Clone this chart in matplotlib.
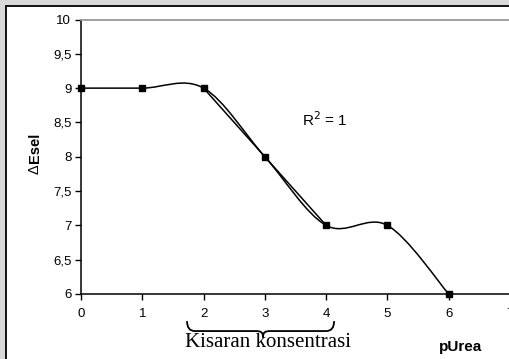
import numpy as np
import matplotlib
matplotlib.use("Agg")
import matplotlib.pyplot as plt
from matplotlib.path import Path
from matplotlib.patches import PathPatch, Rectangle

# Data
x_vals = [0, 1, 2, 3, 4, 5, 6]
y_vals = [9, 9, 9, 8, 7, 7, 6]
trend_x = [2, 3, 4]
trend_y = [9, 8, 7]
x_ticks = [0, 1, 2, 3, 4, 5, 6, 7]
y_ticks = [6, 6.5, 7, 7.5, 8, 8.5, 9, 9.5, 10]
y_tick_labels = ["6", "6,5", "7", "7,5", "8", "8,5", "9", "9,5", "10"]

W, H = 509, 359
fig = plt.figure(figsize=(W / 100, H / 100), dpi=100)
fig.patch.set_facecolor("#d9d9d9")

def fx(px):
    return px / W

def fy(py):
    return 1 - py / H

# white chart area with black border
fig.patches.append(Rectangle((fx(6), fy(H + 10)), fx(W + 10), (H + 10 - 6) / H,
                             transform=fig.transFigure, facecolor="white",
                             edgecolor="black", linewidth=1.3, zorder=-5))

ax_l, ax_r, ax_t, ax_b = 81, 510, 19.5, 294
ax = fig.add_axes([fx(ax_l), fy(ax_b), (ax_r - ax_l) / W, (ax_b - ax_t) / H])
ax.set_zorder(2)
ax.set_facecolor("none")
ax.set_xlim(0, 7)
ax.set_ylim(6, 10)

# Excel-style smoothed line (Bezier through points)
pts = np.column_stack([x_vals, y_vals]).astype(float)
n = len(pts)
verts = [tuple(pts[0])]
codes = [Path.MOVETO]
for i in range(n - 1):
    p0 = pts[max(i - 1, 0)]
    p1 = pts[i]
    p2 = pts[i + 1]
    p3 = pts[min(i + 2, n - 1)]
    c1 = p1 + (p2 - p0) / 6
    c2 = p2 - (p3 - p1) / 6
    verts += [tuple(c1), tuple(c2), tuple(p2)]
    codes += [Path.CURVE4] * 3
ax.add_patch(PathPatch(Path(verts, codes), facecolor="none", edgecolor="black",
                       linewidth=1.1, zorder=3))
ax.plot(x_vals, y_vals, linestyle="none", marker="s", markersize=4,
        color="black", zorder=4, clip_on=False)

# linear trendline
coef = np.polyfit(trend_x, trend_y, 1)
tx = np.array([trend_x[0], trend_x[-1]])
ax.plot(tx, np.polyval(coef, tx), color="black", linewidth=1.1, zorder=3)

ax.set_xticks(x_ticks)
ax.set_xticklabels([str(t) for t in x_ticks])
ax.set_yticks(y_ticks)
ax.set_yticklabels(y_tick_labels)
for lab in ax.get_xticklabels() + ax.get_yticklabels():
    lab.set_fontfamily("Liberation Sans")
    lab.set_fontsize(9.5)
ax.tick_params(axis="both", direction="out", length=4, width=1, color="black")
ax.tick_params(axis="x", pad=6)
ax.tick_params(axis="y", pad=3)
ax.spines["right"].set_visible(False)
ax.spines["top"].set_color("#999999")
ax.spines["top"].set_linewidth(1.3)
ax.spines["left"].set_linewidth(1.1)
ax.spines["bottom"].set_linewidth(1.1)

ax.text(3.98, 8.54, "R$^2$ = 1", fontsize=11, family="Liberation Sans",
        ha="center", va="center")

# axis titles
fig.text(fx(35), fy(164), "Δ", rotation=90, fontsize=10.5, family="Liberation Sans",
         ha="center", va="top")
fig.text(fx(35), fy(163), "Esel", rotation=90, fontsize=10.5, fontweight="bold",
         family="Liberation Sans", ha="center", va="bottom")
fig.text(fx(461), fy(347), "pUrea", fontsize=11, fontweight="bold",
         family="Liberation Sans", ha="center", va="center")

# brace annotation
bx0, bx1, bmid = 1.73, 4.13, 2.97
ytop, yline, ytip = 5.605, 5.46, 5.37
bverts = [(bx0, ytop), (bx0, yline), (bx0 + 0.13, yline),
          (bmid - 0.12, yline),
          (bmid - 0.03, yline), (bmid, yline - 0.02), (bmid, ytip),
          (bmid, yline - 0.02), (bmid + 0.03, yline), (bmid + 0.12, yline),
          (bx1 - 0.13, yline),
          (bx1, yline), (bx1, ytop)]
bcodes = [Path.MOVETO, Path.CURVE3, Path.CURVE3,
          Path.LINETO,
          Path.CURVE4, Path.CURVE4, Path.CURVE4,
          Path.CURVE4, Path.CURVE4, Path.CURVE4,
          Path.LINETO,
          Path.CURVE3, Path.CURVE3]
ax.add_patch(PathPatch(Path(bverts, bcodes), facecolor="none", edgecolor="black",
                       linewidth=1.3, clip_on=False, zorder=5))

fig.text(fx(268), fy(347), "Kisaran konsentrasi", fontsize=15,
         family="Liberation Serif", ha="center", va="baseline")

fig.savefig("out.png", dpi=100, facecolor=fig.get_facecolor())
